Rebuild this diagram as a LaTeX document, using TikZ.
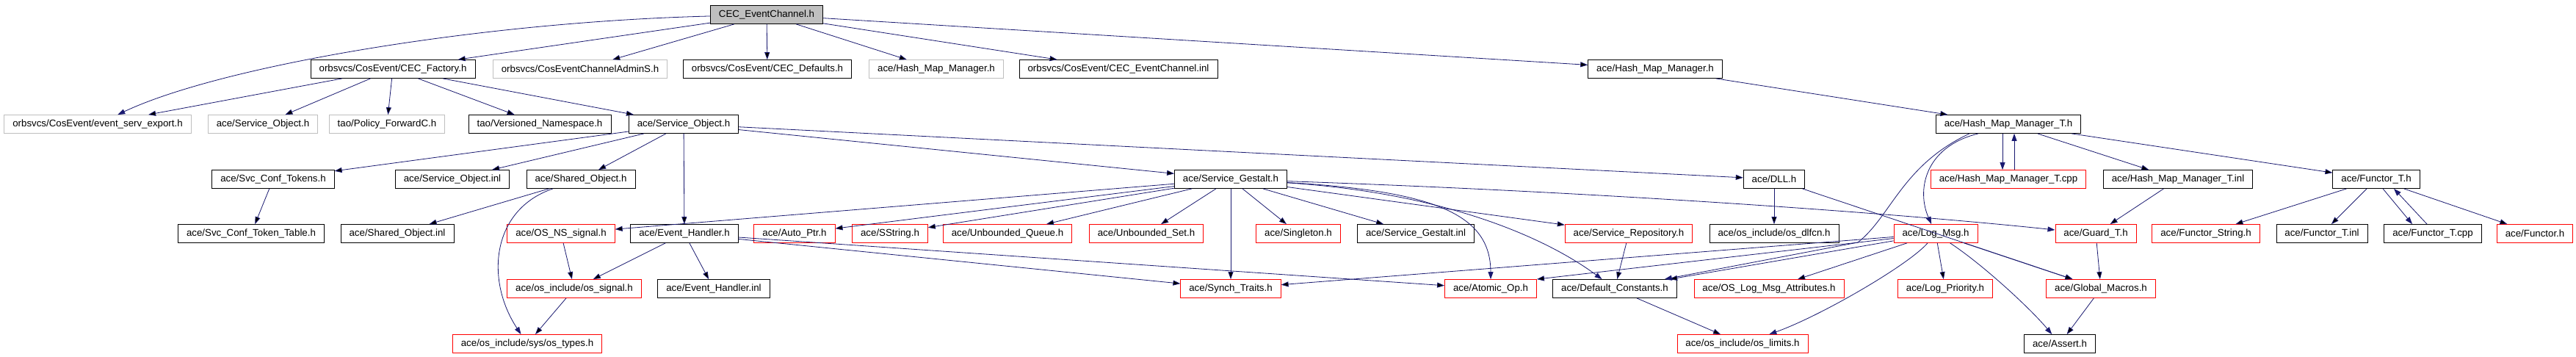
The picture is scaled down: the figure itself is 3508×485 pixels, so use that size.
\documentclass[tikz,border=0pt]{standalone}
\usepackage{fontspec}
\setmainfont{Liberation Sans}
\usetikzlibrary{arrows.meta}
\definecolor{edgeblue}{HTML}{191970}
\definecolor{boxgray}{HTML}{BFBFBF}
\definecolor{boxred}{HTML}{FF0000}

\begin{document}
\begin{tikzpicture}[x=1pt, y=-1pt,
  every node/.style = {shape=rectangle, draw=black, line width=0.8pt,
    fill=white, inner xsep=11.5pt, inner ysep=0pt, minimum height=25pt,
    font=\fontsize{13.3}{15}\selectfont},
  grayfile/.style = {draw=boxgray},
  redfile/.style = {draw=boxred},
  rootfile/.style = {fill=boxgray},
  inc/.style = {draw=edgeblue, line width=0.8pt,
    -{Triangle[length=10pt,width=7pt]}}]
  \useasboundingbox (0,0) rectangle (3508,485);
  \fill[white] (0,0) rectangle (3508,485);

  \node[rootfile] (root) at (1044,20) {CEC\_EventChannel.h};

  \node (factory) at (535,94) {orbsvcs/CosEvent/CEC\_Factory.h};
  \node[grayfile] (adminS) at (790,94) {orbsvcs/CosEventChannelAdminS.h};
  \node (defaults) at (1045,94) {orbsvcs/CosEvent/CEC\_Defaults.h};
  \node[grayfile] (hmmgray) at (1275,94) {ace/Hash\_Map\_Manager.h};
  \node (ecinl) at (1523,94) {orbsvcs/CosEvent/CEC\_EventChannel.inl};
  \node (hmm) at (2254,94) {ace/Hash\_Map\_Manager.h};

  \node[grayfile] (servexport) at (133,169) {orbsvcs/CosEvent/event\_serv\_export.h};
  \node[grayfile] (sobjgray) at (358,169) {ace/Service\_Object.h};
  \node[grayfile] (policyfwd) at (527,169) {tao/Policy\_ForwardC.h};
  \node (versioned) at (735,169) {tao/Versioned\_Namespace.h};
  \node (sobj) at (931,169) {ace/Service\_Object.h};
  \node (hmmt) at (2735,169) {ace/Hash\_Map\_Manager\_T.h};

  \node (svctokens) at (372,244) {ace/Svc\_Conf\_Tokens.h};
  \node (sobjinl) at (616,244) {ace/Service\_Object.inl};
  \node (sharedobj) at (791,244) {ace/Shared\_Object.h};
  \node (gestalt) at (1676,244) {ace/Service\_Gestalt.h};
  \node (dll) at (2416,244) {ace/DLL.h};
  \node[redfile] (hmmtcpp) at (2735,244) {ace/Hash\_Map\_Manager\_T.cpp};
  \node (hmmtinl) at (2966,244) {ace/Hash\_Map\_Manager\_T.inl};
  \node (functort) at (3236,244) {ace/Functor\_T.h};

  \node (tokentable) at (342,318) {ace/Svc\_Conf\_Token\_Table.h};
  \node (sharedinl) at (541,318) {ace/Shared\_Object.inl};
  \node[redfile] (nssignal) at (764,318) {ace/OS\_NS\_signal.h};
  \node (evhandler) at (932,318) {ace/Event\_Handler.h};
  \node[redfile] (autoptr) at (1082,318) {ace/Auto\_Ptr.h};
  \node[redfile] (sstring) at (1212,318) {ace/SString.h};
  \node[redfile] (ubqueue) at (1372,318) {ace/Unbounded\_Queue.h};
  \node[redfile] (ubset) at (1561,318) {ace/Unbounded\_Set.h};
  \node[redfile] (singleton) at (1768,318) {ace/Singleton.h};
  \node (gestaltinl) at (1928,318) {ace/Service\_Gestalt.inl};
  \node[redfile] (repository) at (2218,318) {ace/Service\_Repository.h};
  \node (dlfcn) at (2416,318) {ace/os\_include/os\_dlfcn.h};
  \node[redfile] (logmsg) at (2636,318) {ace/Log\_Msg.h};
  \node[redfile] (guardt) at (2854,318) {ace/Guard\_T.h};
  \node[redfile] (functorstr) at (3004,318) {ace/Functor\_String.h};
  \node (functorinl) at (3162,318) {ace/Functor\_T.inl};
  \node (functorcpp) at (3313,318) {ace/Functor\_T.cpp};
  \node[redfile] (functor) at (3452,318) {ace/Functor.h};

  \node[redfile] (ossignal) at (782,393) {ace/os\_include/os\_signal.h};
  \node (evhinl) at (972,393) {ace/Event\_Handler.inl};
  \node[redfile] (synchtraits) at (1676,393) {ace/Synch\_Traits.h};
  \node[redfile] (atomicop) at (2030,393) {ace/Atomic\_Op.h};
  \node (defconst) at (2199,393) {ace/Default\_Constants.h};
  \node[redfile] (logattr) at (2409,393) {ace/OS\_Log\_Msg\_Attributes.h};
  \node[redfile] (logprio) at (2649,393) {ace/Log\_Priority.h};
  \node[redfile] (globalmacros) at (2861,393) {ace/Global\_Macros.h};

  \node[redfile] (ostypes) at (718,468) {ace/os\_include/sys/os\_types.h};
  \node[redfile] (oslimits) at (2373,468) {ace/os\_include/os\_limits.h};
  \node (assert) at (2805,468) {ace/Assert.h};

  \draw[inc] (root) .. controls (650,30) and (300,90) .. (servexport);
  \path[inc] (root) edge (factory) edge (adminS) edge (defaults)
    edge (hmmgray) edge (ecinl) edge (hmm);
  \path[inc] (factory) edge (servexport) edge (sobjgray) edge (policyfwd)
    edge (versioned) edge (sobj);
  \path[inc] (sobj) edge (svctokens) edge (sobjinl) edge (sharedobj)
    edge (evhandler) edge (gestalt) edge (dll);
  \path[inc] (svctokens) edge (tokentable);
  \path[inc] (sharedobj) edge (sharedinl);
  \draw[inc] (sharedobj) .. controls (670,285) and (660,380) .. (ostypes);
  \path[inc] (nssignal) edge (ossignal);
  \path[inc] (ossignal) edge (ostypes);
  \path[inc] (evhandler) edge (ossignal) edge (evhinl) edge (synchtraits)
    edge (atomicop);
  \path[inc] (gestalt) edge (nssignal) edge (autoptr) edge (sstring)
    edge (ubqueue) edge (ubset) edge (singleton) edge (synchtraits)
    edge (gestaltinl) edge (repository);
  \draw[inc] (gestalt) .. controls (1950,260) and (2030,290) .. (atomicop);
  \draw[inc] (gestalt) .. controls (1960,262) and (2100,320) .. (defconst);
  \draw[inc] (gestalt) .. controls (2200,262) and (2600,292) .. ([yshift=5pt]guardt.west);
  \path[inc] (repository) edge (defconst);
  \path[inc] (dll) edge (dlfcn) edge (globalmacros);
  \path[inc] (hmm) edge (hmmt);
  \draw[inc] ([xshift=-8pt]hmmt.south) -- ([xshift=-8pt]hmmtcpp.north);
  \draw[inc] ([xshift=8pt]hmmtcpp.north) -- ([xshift=8pt]hmmt.south);
  \path[inc] (hmmt) edge (hmmtinl) edge (functort);
  \draw[inc] ([xshift=-41pt]hmmt.south) .. controls (2620,200) and (2610,260) .. (logmsg);
  \draw[inc] ([xshift=-53pt]hmmt.south) .. controls (2590,225) and (2575,295)
    .. (2530,330) -- (defconst);
  \path[inc] (hmmtinl) edge (guardt);
  \path[inc] (guardt) edge (globalmacros);
  \path[inc] (logmsg) edge (synchtraits) edge (atomicop.north east)
    edge (defconst) edge (logattr) edge (logprio) edge (globalmacros);
  \draw[inc] (logmsg) .. controls (2600,360) and (2480,430) .. (oslimits);
  \draw[inc] (logmsg) .. controls (2700,360) and (2765,420) .. (assert);
  \path[inc] (defconst) edge (oslimits);
  \path[inc] (globalmacros) edge (assert);
  \path[inc] (functort) edge (functorstr) edge (functorinl) edge (functor);
  \draw[inc] ([xshift=9pt]functort.south) -- ([xshift=-28pt]functorcpp.north);
  \draw[inc] ([xshift=-8pt]functorcpp.north) -- ([xshift=24pt]functort.south);
\end{tikzpicture}
\end{document}
